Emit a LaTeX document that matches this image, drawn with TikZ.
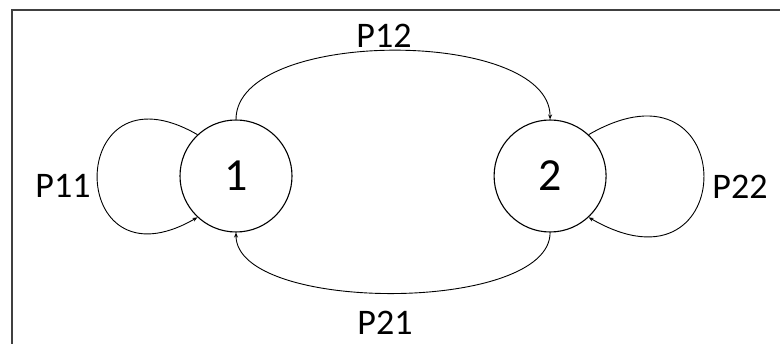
\documentclass[tikz,border=0pt]{standalone}
\usepackage{fontspec}
\setmainfont{Carlito}
\usepackage{tikz}
\usetikzlibrary{arrows.meta,positioning}

\begin{document}
\begin{tikzpicture}[x=1pt,y=-1pt,
  state/.style={draw, circle, minimum size=112pt, inner sep=0pt, line width=1.1pt, font=\fontsize{46}{50}\selectfont},
  prob/.style={font=\fontsize{36}{40}\selectfont, inner sep=0pt},
  trans/.style={line width=0.9pt, -{Stealth[length=5pt,width=4pt]}}
]
  \useasboundingbox (0,0) rectangle (780,344);
  \clip (0,0) rectangle (780,344);
  \draw[line width=1.5pt, black!75] (12,10) rectangle (800,370);

  \node [state] (n1) at (236,176) {1};
  \node [state, right=201pt of n1] (n2) {2};

  % self loops
  \draw[trans] (n1.133) to[out=150, in=210, distance=154pt] (n1.227);
  \draw[trans] (n2.47) to[out=30, in=-30, distance=177pt] (n2.313);

  % transitions between the states
  \draw[trans] (n1.north) to[out=90, in=90, looseness=0.75] (n2.north);
  \draw[trans] (n2.south) to[out=-90, in=-90, looseness=0.66] (n1.south);

  \node [prob] (p11) at (63,186) {P11};
  \node [prob] (p22) at (740,187) {P22};
  \node [prob] (p12) at (384,36) {P12};
  \node [prob] (p21) at (385,323) {P21};
\end{tikzpicture}
\end{document}
